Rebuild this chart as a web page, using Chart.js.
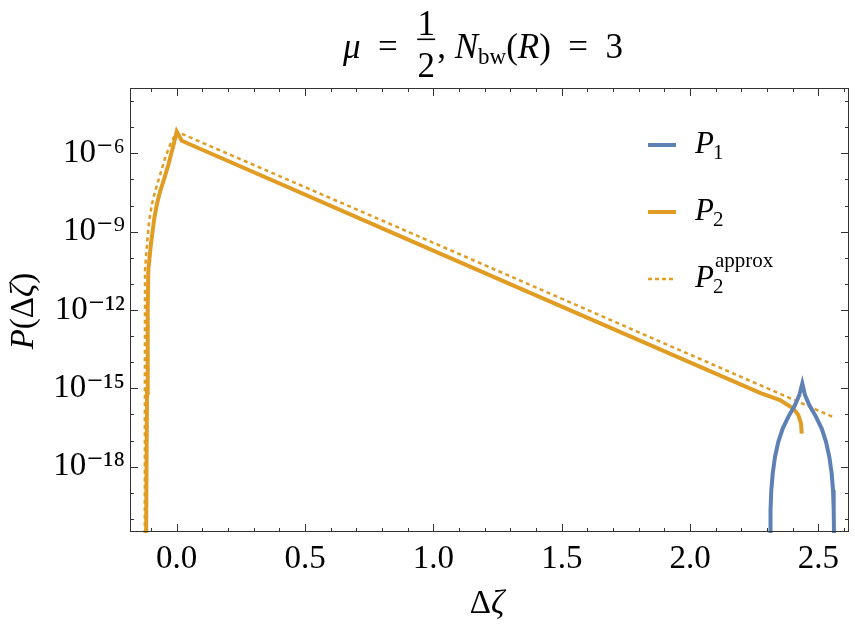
<!DOCTYPE html>
<html>
<head>
<meta charset="utf-8">
<script src="https://cdn.jsdelivr.net/npm/chart.js@4.4.1/dist/chart.umd.min.js"></script>
<style>
  html, body { margin: 0; padding: 0; background: #fff; }
  #wrap { width: 855px; height: 626px; }
</style>
</head>
<body>
<div id="wrap"><canvas id="chart" width="855" height="626"></canvas></div>
<script>
// DATA (x = Δζ, y given as log10 of P)
const p1X    = [2.3120, 2.3125, 2.3140, 2.3163, 2.3218, 2.3307, 2.3436, 2.3607, 2.3825, 2.4086, 2.4254, 2.4371,
                2.4476, 2.4644, 2.4905, 2.5127, 2.5294, 2.5423, 2.5516, 2.5567, 2.5594, 2.5606, 2.5610];
const p1LogY = [-22, -20.6, -19.67, -18.90, -18.26, -17.62, -17.05, -16.54, -16.09, -15.64, -15.26, -14.81,
                -15.26, -15.64, -16.09, -16.54, -17.05, -17.62, -18.26, -18.90, -19.67, -20.6, -22];

const p2X    = [-0.1200, -0.1176, -0.1157, -0.1130, -0.1106, -0.1009, -0.0873, -0.0779, -0.0651, -0.0483, -0.0327, -0.0195, -0.0093, 0.000,
                0.0195, 0.870, 1.337, 2.2723, 2.3502, 2.402, 2.4215, 2.432, 2.4348];
const p2LogY = [-22, -17.98, -15.18, -12.00, -10.47, -9.51, -8.49, -7.98, -7.47, -6.96, -6.45, -5.94, -5.56, -5.17,
                -5.52, -9.17, -11.17, -15.17, -15.45, -15.77, -16.02, -16.34, -16.73];

const apxX    = [-0.1245, -0.1240, -0.1235, -0.1176, -0.1079, -0.0974, -0.0845, -0.0651, -0.0456, -0.0261, 0.000, 0.870, 1.337, 2.556];
const apxLogY = [-22, -14.5, -10.47, -9.70, -8.62, -7.98, -7.47, -6.83, -6.19, -5.68, -5.17, -8.87, -10.87, -16.09];

// TICKS
const xTicks = [-0.1, 0.0, 0.1, 0.2, 0.3, 0.4, 0.5, 0.6, 0.7, 0.8, 0.9, 1.0, 1.1, 1.2, 1.3, 1.4, 1.5, 1.6, 1.7, 1.8, 1.9, 2.0, 2.1, 2.2, 2.3, 2.4, 2.5, 2.6];
const xMajor = [0.0, 0.5, 1.0, 1.5, 2.0, 2.5];
const xMajorLabels = ['0.0', '0.5', '1.0', '1.5', '2.0', '2.5'];
const yTickExps = [-20, -19, -18, -17, -16, -15, -14, -13, -12, -11, -10, -9, -8, -7, -6, -5, -4];
const yMajorExps = [-18, -15, -12, -9, -6];

const BLUE = '#5E81B5';
const ORANGE = '#E19C24';
const SERIF = '"Liberation Serif", "DejaVu Serif", serif';

const toPoints = (xs, ls) => xs.map((x, i) => ({ x: x, y: Math.pow(10, ls[i]) }));

const SUP = { '-': '\u207B', '0': '\u2070', '1': '\u00B9', '2': '\u00B2', '3': '\u00B3', '4': '\u2074', '5': '\u2075', '6': '\u2076', '7': '\u2077', '8': '\u2078', '9': '\u2079' };
const sup = s => s.split('').map(c => SUP[c] || c).join('');

// draws a row of text pieces with their own fonts / offsets
function runsWidth(ctx, runs) {
  let w = 0;
  runs.forEach(r => { ctx.font = r.font; w += r.w != null ? r.w : ctx.measureText(r.t).width; });
  return w;
}
function drawRuns(ctx, runs, x, y) {
  runs.forEach(r => {
    ctx.font = r.font;
    const w = r.w != null ? r.w : ctx.measureText(r.t).width;
    if (r.draw) r.draw(x, y, w);
    else ctx.fillText(r.t, x, y + (r.dy || 0));
    x += w;
  });
}

const decorPlugin = {
  id: 'decor',
  afterDatasetsDraw(chart) {
    const { ctx, chartArea: a, scales: { x, y } } = chart;
    ctx.save();

    // frame + inward ticks
    ctx.strokeStyle = '#333';
    ctx.lineWidth = 1;
    ctx.strokeRect(a.left + 0.5, a.top + 0.5, a.right - a.left - 1, a.bottom - a.top - 1);
    ctx.beginPath();
    x.ticks.forEach(t => {
      const px = Math.round(x.getPixelForValue(t.value)) + 0.5;
      const len = t.label ? 8 : 4;
      ctx.moveTo(px, a.bottom); ctx.lineTo(px, a.bottom - len);
      ctx.moveTo(px, a.top); ctx.lineTo(px, a.top + len);
    });
    y.ticks.forEach(t => {
      const py = Math.round(y.getPixelForValue(t.value)) + 0.5;
      const len = t.label ? 8 : 4;
      ctx.moveTo(a.left, py); ctx.lineTo(a.left + len, py);
      ctx.moveTo(a.right, py); ctx.lineTo(a.right - len, py);
    });
    ctx.stroke();

    ctx.fillStyle = '#000';
    ctx.textBaseline = 'alphabetic';
    ctx.textAlign = 'left';
    const up = '33px ' + SERIF;
    const it = 'italic 33px ' + SERIF;
    const tUp = '35px ' + SERIF;
    const tIt = 'italic 35px ' + SERIF;
    const small = '23px ' + SERIF;

    // title: mu = 1/2, N_bw(R) = 3
    const fracW = 22;
    const title = [
      { t: '\u03BC', font: tIt },
      { t: '\u2002=\u2002', font: tUp },
      { t: '', font: tUp, w: fracW, draw: (x0, y0, w) => {
          ctx.font = tUp;
          ctx.textAlign = 'center';
          ctx.fillText('1', x0 + w / 2, 35);
          ctx.fillText('2', x0 + w / 2, 77);
          ctx.textAlign = 'left';
          ctx.fillRect(x0 + 2, 38.5, w - 4, 1.6);
        } },
      { t: ', ', font: tUp },
      { t: 'N', font: tIt },
      { t: 'bw', font: small, dy: 6 },
      { t: '(', font: tUp },
      { t: 'R', font: tIt },
      { t: ')\u2002=\u20023', font: tUp }
    ];
    const tw = runsWidth(ctx, title);
    drawRuns(ctx, title, 483 - tw / 2, 58);

    // x axis title
    const xt = [{ t: '\u0394', font: up }, { t: '\u03B6', font: it }];
    drawRuns(ctx, xt, 487 - runsWidth(ctx, xt) / 2, 613);

    // y axis title
    const yt = [{ t: 'P', font: it }, { t: '(\u0394', font: up }, { t: '\u03B6', font: it }, { t: ')', font: up }];
    ctx.save();
    ctx.translate(33, 311);
    ctx.rotate(-Math.PI / 2);
    drawRuns(ctx, yt, -runsWidth(ctx, yt) / 2, 0);
    ctx.restore();

    // legend
    const legFont = 'italic 31px ' + SERIF;
    const subFont = '21px ' + SERIF;
    const items = [
      { color: BLUE, dash: [], lw: 4, y: 145, sub: '1' },
      { color: ORANGE, dash: [], lw: 4, y: 212, sub: '2' },
      { color: ORANGE, dash: [4, 3], lw: 2.5, y: 279, sub: '2', sup: 'approx' }
    ];
    items.forEach(d => {
      ctx.strokeStyle = d.color;
      ctx.lineWidth = d.lw;
      ctx.setLineDash(d.dash);
      ctx.beginPath();
      ctx.moveTo(648, d.y); ctx.lineTo(676, d.y);
      ctx.stroke();
      ctx.setLineDash([]);
      ctx.font = legFont;
      ctx.fillText('P', 695, d.y + 8);
      const pw = ctx.measureText('P').width;
      ctx.font = subFont;
      ctx.fillText(d.sub, 695 + pw - 1, d.y + 14);
      if (d.sup) ctx.fillText(d.sup, 695 + pw + 1, d.y - 12);
    });

    ctx.restore();
  }
};

const chart = new Chart(document.getElementById('chart'), {
  type: 'line',
  data: {
    datasets: [
      { label: 'P1', data: toPoints(p1X, p1LogY), borderColor: BLUE, borderWidth: 4, pointRadius: 0, tension: 0, clip: 1 },
      { label: 'P2', data: toPoints(p2X, p2LogY), borderColor: ORANGE, borderWidth: 4, pointRadius: 0, tension: 0, clip: 1 },
      { label: 'P2 approx', data: toPoints(apxX, apxLogY), borderColor: ORANGE, borderWidth: 2.5, borderDash: [4, 3.5], pointRadius: 0, tension: 0, clip: 1 }
    ]
  },
  options: {
    responsive: false,
    animation: false,
    layout: { padding: { top: 88, right: 6, left: 0, bottom: 0 } },
    plugins: { legend: { display: false }, tooltip: { enabled: false }, title: { display: false } },
    scales: {
      x: {
        type: 'linear',
        min: -0.182,
        max: 2.619,
        grid: { display: false, drawTicks: false },
        border: { display: false },
        afterBuildTicks: s => { s.ticks = xTicks.map(v => ({ value: v })); },
        afterFit: s => { s.height = 94; },
        ticks: {
          autoSkip: false, maxRotation: 0, padding: 8, color: '#000',
          font: { family: SERIF, size: 33 },
          callback: v => {
            const i = xMajor.findIndex(m => Math.abs(m - v) < 1e-6);
            return i >= 0 ? xMajorLabels[i] : '';
          }
        }
      },
      y: {
        type: 'logarithmic',
        min: 3.162e-21,
        max: 3.162e-4,
        grid: { display: false, drawTicks: false },
        border: { display: false },
        afterBuildTicks: s => { s.ticks = yTickExps.map(e => ({ value: Math.pow(10, e) })); },
        afterFit: s => { s.width = 130; },
        ticks: {
          autoSkip: false, padding: 5, color: '#000',
          font: { family: SERIF, size: 33 },
          callback: v => {
            const e = Math.round(Math.log10(v));
            return yMajorExps.includes(e) ? '10' + sup(String(e)) : '';
          }
        }
      }
    }
  },
  plugins: [decorPlugin]
});
</script>
</body>
</html>
